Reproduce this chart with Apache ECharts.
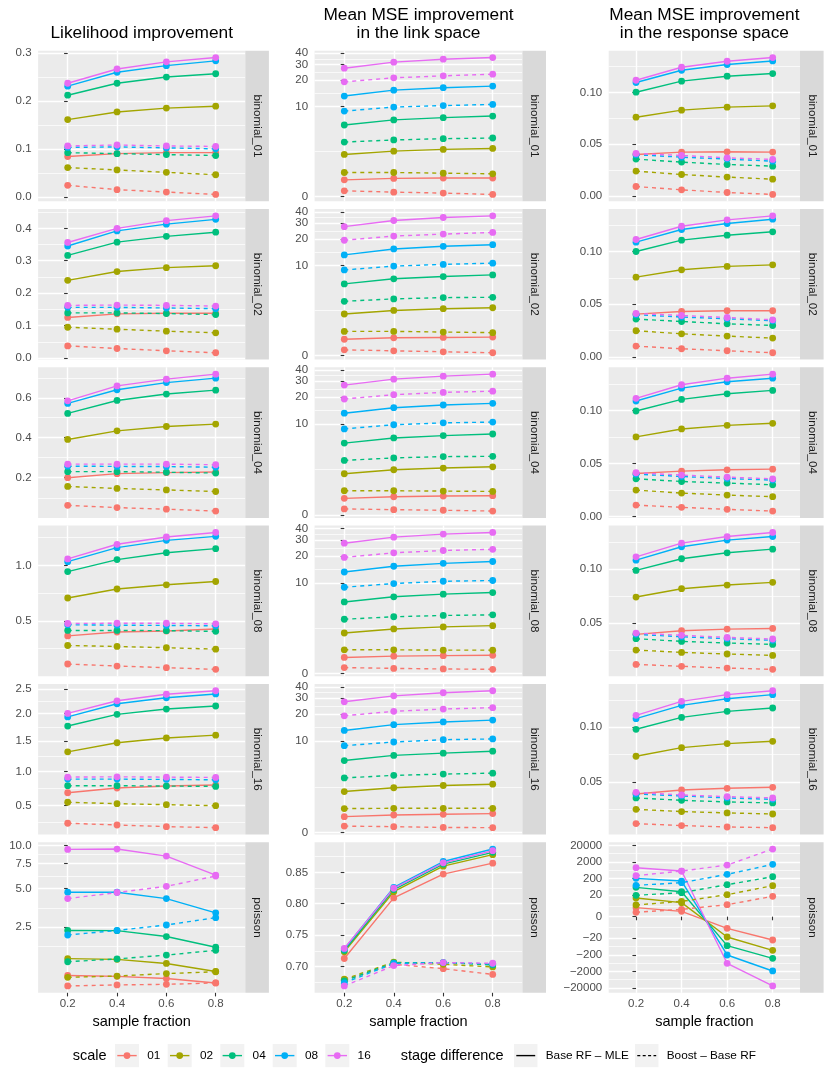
<!DOCTYPE html>
<html><head><meta charset="utf-8">
<script src="https://cdn.jsdelivr.net/npm/echarts@6/dist/echarts.min.js"></script>
<style>html,body{margin:0;padding:0;background:#fff}#c{width:830px;height:1075px}</style>
</head><body><div id="c"></div>
<script>
// ---------------- categories ----------------
const fractions = ['0.2', '0.4', '0.6', '0.8'];
const scales = ['01', '02', '04', '08', '16'];
const stages = ['Base RF – MLE', 'Boost – Base RF'];
const families = ['binomial_01', 'binomial_02', 'binomial_04', 'binomial_08', 'binomial_16', 'poisson'];
const metricTitles = [['Likelihood improvement'], ['Mean MSE improvement', 'in the link space'], ['Mean MSE improvement', 'in the response space']];
const axisTitle = 'sample fraction';
const scaleTitle = 'scale';
const stageTitle = 'stage difference';

// ---------------- Likelihood improvement ----------------
// rows = scales 01,02,04,08,16 ; columns = sample fraction 0.2..0.8
const lik_b01_base = [[0.084,0.090,0.092,0.092],[0.161,0.177,0.185,0.189],[0.212,0.237,0.250,0.257],[0.231,0.260,0.274,0.284],[0.237,0.267,0.282,0.291]];
const lik_b01_boost = [[0.024,0.015,0.010,0.005],[0.061,0.056,0.051,0.046],[0.092,0.090,0.088,0.086],[0.103,0.104,0.102,0.100],[0.106,0.108,0.106,0.105]];
const lik_b02_base = [[0.125,0.136,0.138,0.138],[0.239,0.266,0.278,0.284],[0.316,0.357,0.375,0.388],[0.345,0.392,0.413,0.428],[0.356,0.400,0.424,0.439]];
const lik_b02_boost = [[0.038,0.030,0.023,0.017],[0.095,0.089,0.083,0.078],[0.139,0.139,0.137,0.134],[0.156,0.156,0.154,0.152],[0.162,0.163,0.162,0.160]];
const lik_b04_base = [[0.200,0.220,0.225,0.228],[0.390,0.433,0.455,0.467],[0.521,0.587,0.620,0.640],[0.572,0.642,0.679,0.702],[0.585,0.662,0.697,0.723]];
const lik_b04_boost = [[0.064,0.053,0.045,0.036],[0.157,0.147,0.140,0.132],[0.230,0.230,0.227,0.223],[0.257,0.256,0.255,0.252],[0.267,0.267,0.267,0.264]];
const lik_b08_base = [[0.371,0.404,0.413,0.430],[0.702,0.783,0.821,0.851],[0.943,1.056,1.122,1.161],[1.036,1.171,1.243,1.283],[1.062,1.204,1.276,1.322]];
const lik_b08_boost = [[0.132,0.115,0.101,0.087],[0.289,0.281,0.270,0.258],[0.418,0.418,0.416,0.410],[0.467,0.463,0.461,0.458],[0.478,0.480,0.480,0.475]];
const lik_b16_base = [[0.686,0.755,0.784,0.799],[1.315,1.467,1.549,1.598],[1.762,1.982,2.085,2.146],[1.933,2.192,2.315,2.397],[2.000,2.253,2.390,2.466]];
const lik_b16_boost = [[0.255,0.231,0.208,0.194],[0.549,0.529,0.515,0.500],[0.789,0.789,0.784,0.779],[0.887,0.887,0.882,0.877],[0.917,0.922,0.917,0.912]];
const lik_poi_base = [[0.61,0.58,0.51,0.37],[1.18,1.155,1.01,0.74],[2.34,2.33,2.06,1.61],[4.69,4.69,4.21,3.28],[9.40,9.45,8.45,6.23]];
const lik_poi_boost = [[0.276,0.307,0.328,0.37],[0.55,0.59,0.67,0.73],[1.07,1.17,1.31,1.49],[2.13,2.34,2.61,3.00],[4.21,4.67,5.18,6.13]];

// ---------------- Mean MSE improvement in the link space ----------------
const link_b01_base = [[0.88,0.96,0.98,0.98],[2.61,2.90,3.06,3.15],[6.14,7.04,7.48,7.81],[13.2,15.4,16.4,17.1],[27.2,31.8,34.3,35.8]];
const link_b01_boost = [[0.29,0.22,0.17,0.10],[1.31,1.31,1.27,1.23],[3.81,4.05,4.20,4.28],[8.9,9.9,10.3,10.6],[19.1,21.2,22.3,23.3]];
const link_b02_base = [[0.86,0.94,0.96,0.98],[2.56,2.87,3.03,3.12],[6.14,7.04,7.48,7.81],[13.2,15.4,16.5,17.2],[27.4,32.1,34.7,36.2]];
const link_b02_boost = [[0.29,0.24,0.19,0.14],[1.32,1.32,1.28,1.24],[3.78,4.05,4.20,4.24],[8.9,9.85,10.3,10.65],[19.3,21.5,22.6,23.6]];
const link_b04_base = [[0.87,0.96,1.00,1.02],[2.50,2.84,2.99,3.11],[6.05,6.94,7.38,7.70],[13.2,15.2,16.3,17.0],[27.1,31.5,34.0,35.8]];
const link_b04_boost = [[0.31,0.27,0.24,0.20],[1.31,1.31,1.29,1.27],[3.75,4.03,4.18,4.21],[8.8,9.8,10.3,10.5],[19.0,21.2,22.5,23.2]];
const link_b08_base = [[0.85,0.92,0.95,0.97],[2.46,2.80,2.98,3.10],[6.04,6.93,7.43,7.75],[13.2,15.3,16.5,17.3],[27.6,32.2,34.8,36.3]];
const link_b08_boost = [[0.31,0.27,0.24,0.22],[1.29,1.29,1.27,1.27],[3.74,4.02,4.17,4.24],[8.9,9.8,10.4,10.6],[19.2,21.6,22.9,23.6]];
const link_b16_base = [[0.82,0.91,0.95,0.99],[2.46,2.78,2.98,3.10],[6.02,6.90,7.33,7.71],[13.2,15.3,16.4,17.2],[27.4,31.9,34.5,36.3]];
const link_b16_boost = [[0.32,0.29,0.25,0.24],[1.28,1.30,1.30,1.30],[3.73,4.01,4.16,4.27],[8.9,9.8,10.4,10.6],[19.2,21.5,22.8,23.6]];
const link_poi_base = [[0.7128,0.8090,0.8473,0.8649],[0.7234,0.8190,0.8601,0.8787],[0.7255,0.8223,0.8633,0.8824],[0.7277,0.8260,0.8676,0.8878],[0.7287,0.8245,0.8654,0.8851]];
const link_poi_boost = [[0.6787,0.7037,0.6968,0.6878],[0.6803,0.7069,0.7037,0.6995],[0.6777,0.7060,0.7064,0.7027],[0.6745,0.7050,0.7064,0.7043],[0.6697,0.7016,0.7064,0.7053]];

// ---------------- Mean MSE improvement in the response space ----------------
const resp_b01_base = [[0.0400,0.0423,0.0426,0.0423],[0.0761,0.0829,0.0858,0.0871],[0.1003,0.1110,0.1158,0.1184],[0.1097,0.1216,0.1271,0.1306],[0.1119,0.1245,0.1303,0.1339]];
const resp_b01_boost = [[0.0090,0.0058,0.0032,0.0013],[0.0239,0.0206,0.0181,0.0161],[0.0355,0.0326,0.0303,0.0287],[0.0397,0.0374,0.0355,0.0335],[0.0410,0.0390,0.0368,0.0352]];
const resp_b02_base = [[0.0405,0.0430,0.0437,0.0437],[0.0756,0.0826,0.0858,0.0873],[0.1000,0.1108,0.1155,0.1187],[0.1089,0.1209,0.1266,0.1307],[0.1114,0.1240,0.1301,0.1339]];
const resp_b02_boost = [[0.0101,0.0076,0.0057,0.0038],[0.0247,0.0218,0.0196,0.0177],[0.0358,0.0335,0.0313,0.0297],[0.0399,0.0377,0.0361,0.0342],[0.0411,0.0392,0.0373,0.0351]];
const resp_b04_base = [[0.0406,0.0428,0.0441,0.0447],[0.0750,0.0825,0.0859,0.0878],[0.0994,0.1103,0.1156,0.1188],[0.1088,0.1209,0.1269,0.1303],[0.1113,0.1241,0.1303,0.1341]];
const resp_b04_boost = [[0.0109,0.0088,0.0069,0.0053],[0.0250,0.0222,0.0203,0.0188],[0.0356,0.0331,0.0316,0.0300],[0.0400,0.0378,0.0359,0.0344],[0.0413,0.0391,0.0372,0.0356]];
const resp_b08_base = [[0.0395,0.0429,0.0444,0.0450],[0.0741,0.0818,0.0852,0.0877],[0.0988,0.1096,0.1151,0.1185],[0.1083,0.1207,0.1269,0.1302],[0.1114,0.1241,0.1302,0.1340]];
const resp_b08_boost = [[0.0117,0.0099,0.0083,0.0071],[0.0250,0.0228,0.0213,0.0200],[0.0355,0.0330,0.0315,0.0302],[0.0395,0.0373,0.0355,0.0340],[0.0407,0.0386,0.0367,0.0352]];
const resp_b16_base = [[0.0390,0.0427,0.0442,0.0451],[0.0735,0.0814,0.0851,0.0872],[0.0982,0.1091,0.1146,0.1177],[0.1079,0.1201,0.1262,0.1299],[0.1110,0.1238,0.1299,0.1335]];
const resp_b16_boost = [[0.0119,0.0101,0.0088,0.0082],[0.0250,0.0229,0.0217,0.0207],[0.0354,0.0332,0.0317,0.0308],[0.0390,0.0372,0.0354,0.0341],[0.0405,0.0381,0.0366,0.0354]];
const resp_poi_base = [[3.2,1.62,-4.85,-25.5],[13.3,6.84,-16.8,-107],[58.6,32.1,-56,-325],[205,141,-205,-1888],[900,566,-650,-15150]];
const resp_poi_boost = [[1.28,2.41,5.1,16.8],[4.85,8.28,21.2,73.9],[19.3,28.0,85,258],[77.5,112,357,1430],[297,566,1302,12020]];

// ---------------- tick labels ----------------
const lik_ticks_b01 = ['0.0','0.1','0.2','0.3'];
const lik_ticks_b02 = ['0.0','0.1','0.2','0.3','0.4'];
const lik_ticks_b04 = ['0.2','0.4','0.6'];
const lik_ticks_b08 = ['0.5','1.0'];
const lik_ticks_b16 = ['0.5','1.0','1.5','2.0','2.5'];
const lik_ticks_poi = ['2.5','5.0','7.5','10.0'];
const link_ticks_bin = ['0','10','20','30','40'];
const link_ticks_poi = ['0.70','0.75','0.80','0.85'];
const resp_ticks_b01 = ['0.00','0.05','0.10'];
const resp_ticks_b08 = ['0.05','0.10'];
const resp_ticks_poi = ['−20000','−2000','−200','−20','0','20','200','2000','20000'];

// ---------------- tables built from the arrays ----------------
const panelTable = [
  [[lik_b01_base,lik_b01_boost,lik_ticks_b01],[lik_b02_base,lik_b02_boost,lik_ticks_b02],[lik_b04_base,lik_b04_boost,lik_ticks_b04],[lik_b08_base,lik_b08_boost,lik_ticks_b08],[lik_b16_base,lik_b16_boost,lik_ticks_b16],[lik_poi_base,lik_poi_boost,lik_ticks_poi]],
  [[link_b01_base,link_b01_boost,link_ticks_bin],[link_b02_base,link_b02_boost,link_ticks_bin],[link_b04_base,link_b04_boost,link_ticks_bin],[link_b08_base,link_b08_boost,link_ticks_bin],[link_b16_base,link_b16_boost,link_ticks_bin],[link_poi_base,link_poi_boost,link_ticks_poi]],
  [[resp_b01_base,resp_b01_boost,resp_ticks_b01],[resp_b02_base,resp_b02_boost,resp_ticks_b01],[resp_b04_base,resp_b04_boost,resp_ticks_b01],[resp_b08_base,resp_b08_boost,resp_ticks_b08],[resp_b16_base,resp_b16_boost,resp_ticks_b08],[resp_poi_base,resp_poi_boost,resp_ticks_poi]]
];

// ---------------- styling / layout ----------------
const COLORS = ['#F8766D','#A3A500','#00BF7D','#00B0F6','#E76BF3'];
const FONT = '"Liberation Sans", Arial, Helvetica, sans-serif';
const colLeft = [38.1, 314.6, 608.7];
const colW = [207.2, 207.8, 191.3];
const stripW = 23.6;
const rowTop0 = 50.7, rowPitch = 158.3, rowH = 150.6;

// pseudo-log transform (sigma = 1, base 10)
const pl = v => Math.asinh(v / 2) / Math.LN10;
const parseTick = s => parseFloat(s.replace('−', '-'));

function minorBreaks(majT, lo, hi) {
  const b = majT.slice();
  if (b.length < 2) return [];
  const bd = b[1] - b[0];
  if (lo < b[0]) b.unshift(b[0] - bd);
  if (hi > b[b.length - 1]) b.push(b[b.length - 1] + bd);
  const out = [];
  for (let i = 0; i < b.length - 1; i++) out.push((b[i] + b[i + 1]) / 2);
  return out.filter(v => v > lo && v < hi);
}
function labelFormatter(mt, tl) {
  return function (v) {
    let best = 0;
    for (let k = 1; k < mt.length; k++) if (Math.abs(mt[k] - v) < Math.abs(mt[best] - v)) best = k;
    return tl[best];
  };
}

const grids = [], xAxes = [], yAxes = [], series = [], graphics = [];
let pi = 0;
for (let c = 0; c < 3; c++) {
  for (let r = 0; r < 6; r++) {
    const [base, boost, tickLabels] = panelTable[c][r];
    const top = rowTop0 + r * rowPitch;
    const all = [].concat(...base, ...boost).map(pl);
    const tmin = Math.min(...all), tmax = Math.max(...all);
    const ex = 0.05 * (tmax - tmin);
    const lo = tmin - ex, hi = tmax + ex;
    const majT = tickLabels.map(s => pl(parseTick(s)));
    const minT = minorBreaks(majT, lo, hi);
    const evenT = majT.filter((v, k) => k % 2 === 0);
    const oddT = majT.filter((v, k) => k % 2 === 1);
    const fmt = labelFormatter(majT, tickLabels);
    const bottom = r === 5;
    const labelBase = { margin: 6.5, fontSize: 11.5, color: '#4D4D4D', fontFamily: FONT,
      showMinLabel: true, showMaxLabel: true, hideOverlap: false, formatter: fmt };

    grids.push({ left: colLeft[c], top: top, width: colW[c], height: rowH, show: true,
      backgroundColor: '#EBEBEB', borderWidth: 0, containLabel: false });

    xAxes.push({ type: 'value', gridIndex: pi, min: -0.6, max: 3.6,
      axisLine: { show: false },
      axisTick: { show: bottom, customValues: [0,1,2,3], length: 3.6, lineStyle: { color: '#333333', width: 1.1 } },
      axisLabel: { show: bottom, customValues: [0,1,2,3], formatter: v => fractions[Math.round(v)], margin: 5,
        fontSize: 11.5, color: '#4D4D4D', fontFamily: FONT, showMinLabel: true, showMaxLabel: true },
      splitLine: { show: true, lineStyle: { color: '#FFFFFF', width: 1.4 } } });

    // major axis: ticks + major grid lines + every other label
    yAxes.push({ type: 'value', gridIndex: pi, min: lo, max: hi, position: 'left',
      axisLine: { show: false },
      axisTick: { show: true, customValues: majT, length: 3.6, lineStyle: { color: '#333333', width: 1.1 } },
      axisLabel: Object.assign({ show: true, customValues: evenT }, labelBase),
      splitLine: { show: true, lineStyle: { color: '#FFFFFF', width: 1.4 } } });
    // minor axis: minor grid lines + the remaining labels
    yAxes.push({ type: 'value', gridIndex: pi, min: lo, max: hi, position: 'left',
      axisLine: { show: false },
      axisTick: { show: false, customValues: minT.length ? minT : [lo] },
      axisLabel: Object.assign({ show: oddT.length > 0, customValues: oddT.length ? oddT : [lo] }, labelBase),
      splitLine: { show: minT.length > 0, lineStyle: { color: '#FFFFFF', width: 0.7 } } });

    const yIdx = 2 * pi;
    [base, boost].forEach((stageData, st) => {
      stageData.forEach((vals, si) => {
        series.push({ type: 'line', xAxisIndex: pi, yAxisIndex: yIdx, silent: true, symbol: 'none', showSymbol: false,
          z: 3, animation: false,
          lineStyle: { color: COLORS[si], width: 1.4, type: st === 0 ? 'solid' : [4, 4] },
          data: vals.map((v, i) => [i, pl(v)]) });
      });
    });
    [base, boost].forEach((stageData, st) => {
      stageData.forEach((vals, si) => {
        series.push({ type: 'scatter', xAxisIndex: pi, yAxisIndex: yIdx, silent: true, symbol: 'circle', symbolSize: 6.8,
          z: 4, animation: false,
          itemStyle: { color: COLORS[si], opacity: 1 },
          data: vals.map((v, i) => [i, pl(v)]) });
      });
    });

    // facet strip
    graphics.push({ type: 'rect', silent: true, z: 1,
      shape: { x: colLeft[c] + colW[c], y: top, width: stripW, height: rowH }, style: { fill: '#D9D9D9' } });
    graphics.push({ type: 'text', silent: true, z: 2, x: colLeft[c] + colW[c] + stripW / 2, y: top + rowH / 2, rotation: -Math.PI / 2,
      style: { text: families[r], fill: '#1A1A1A', font: '11.7px ' + FONT, textAlign: 'center', textVerticalAlign: 'middle' } });
    pi++;
  }
  // column title
  const cx = colLeft[c] + colW[c] / 2;
  const lines = metricTitles[c];
  lines.forEach((t, k) => {
    const y = lines.length === 1 ? 33 : (k === 0 ? 15.3 : 33);
    graphics.push({ type: 'text', silent: true, x: cx, y: y,
      style: { text: t, fill: '#000000', font: '17.3px ' + FONT, textAlign: 'center', textVerticalAlign: 'middle' } });
  });
  // x axis title
  graphics.push({ type: 'text', silent: true, x: cx, y: 1021.7,
    style: { text: axisTitle, fill: '#000000', font: '14.5px ' + FONT, textAlign: 'center', textVerticalAlign: 'middle' } });
}

// ---------------- legend (drawn from the category arrays) ----------------
const legY = 1055.6;
graphics.push({ type: 'text', silent: true, x: 72.7, y: legY,
  style: { text: scaleTitle, fill: '#000000', font: '14.5px ' + FONT, textAlign: 'left', textVerticalAlign: 'middle' } });
const keyX = [115, 167.7, 220.3, 272.7, 325.3];
scales.forEach((s, i) => {
  const x = keyX[i];
  graphics.push({ type: 'rect', silent: true, shape: { x: x, y: legY - 11.6, width: 24, height: 23.2 }, style: { fill: '#F2F2F2' } });
  graphics.push({ type: 'line', silent: true, shape: { x1: x + 2.3, y1: legY, x2: x + 21.7, y2: legY }, style: { stroke: COLORS[i], lineWidth: 1.4 } });
  graphics.push({ type: 'circle', silent: true, shape: { cx: x + 12, cy: legY, r: 3.4 }, style: { fill: COLORS[i] } });
  graphics.push({ type: 'text', silent: true, x: x + 32.3, y: legY,
    style: { text: s, fill: '#000000', font: '11.8px ' + FONT, textAlign: 'left', textVerticalAlign: 'middle' } });
});
graphics.push({ type: 'text', silent: true, x: 400.7, y: legY,
  style: { text: stageTitle, fill: '#000000', font: '14.5px ' + FONT, textAlign: 'left', textVerticalAlign: 'middle' } });
const stKeyX = [514, 635];
stages.forEach((s, i) => {
  const x = stKeyX[i];
  graphics.push({ type: 'rect', silent: true, shape: { x: x, y: legY - 11.6, width: 23.5, height: 23.2 }, style: { fill: '#F2F2F2' } });
  graphics.push({ type: 'line', silent: true, shape: { x1: x + 2.3, y1: legY, x2: x + 21.2, y2: legY },
    style: { stroke: '#000000', lineWidth: 1.4, lineDash: i === 0 ? null : [3, 2.4] } });
  graphics.push({ type: 'text', silent: true, x: x + 31.7, y: legY,
    style: { text: s, fill: '#000000', font: '11.8px ' + FONT, textAlign: 'left', textVerticalAlign: 'middle' } });
});

const chart = echarts.init(document.getElementById('c'), null, { renderer: 'canvas' });
chart.setOption({
  animation: false,
  backgroundColor: '#FFFFFF',
  textStyle: { fontFamily: FONT },
  grid: grids, xAxis: xAxes, yAxis: yAxes, series: series,
  graphic: graphics
});
</script></body></html>
